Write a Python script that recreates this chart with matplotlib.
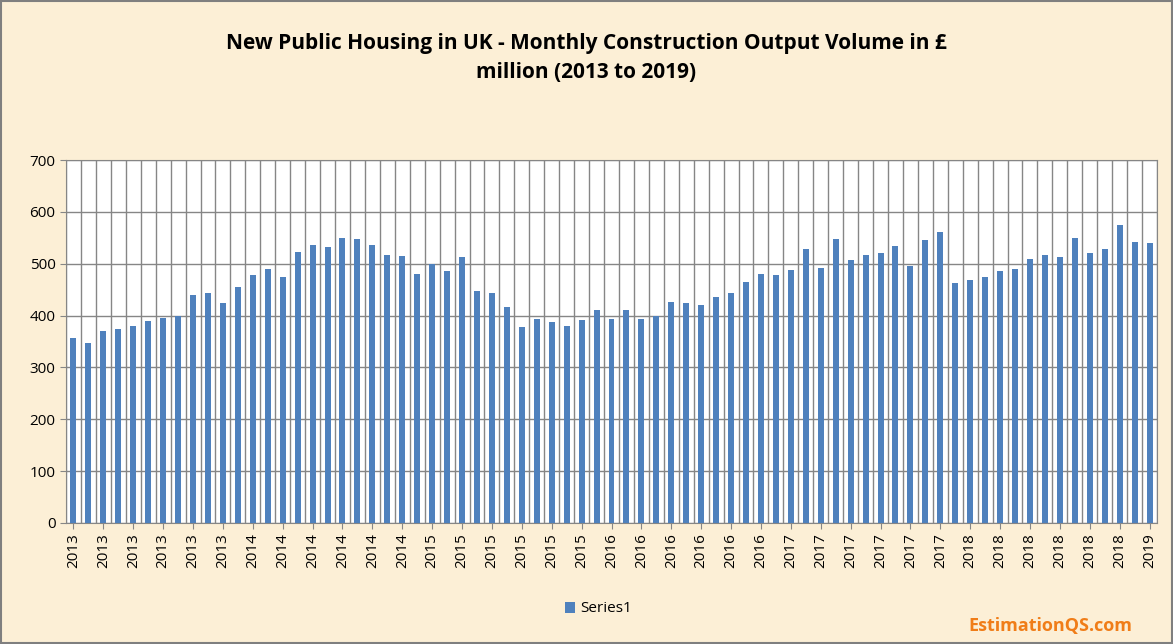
import matplotlib
matplotlib.use("Agg")
import matplotlib.pyplot as plt
import numpy as np

# monthly output, Jan 2013 .. Jan 2019
values = [357, 348, 371, 375, 379, 389, 395, 400, 439, 443, 425, 456,
          479, 489, 475, 523, 537, 533, 550, 548, 537, 517, 514, 481,
          500, 485, 512, 448, 443, 416, 377, 393, 387, 379, 391, 410,
          393, 410, 393, 400, 427, 425, 421, 435, 444, 464, 481, 479,
          487, 529, 491, 548, 508, 517, 521, 535, 496, 546, 562, 462,
          469, 475, 485, 489, 510, 516, 512, 550, 521, 529, 575, 542,
          539]
years = [2013 + i // 12 for i in range(len(values))]

plt.rcParams['font.family'] = ['Open Sans', 'DejaVu Sans']

fig = plt.figure(figsize=(11.73, 6.44), dpi=100)
fig.patch.set_facecolor('#fcefd6')
ax = fig.add_axes([66 / 1173, 1 - 523 / 644, (1157 - 66) / 1173, (523 - 160) / 644])
ax.set_facecolor('white')

x = np.arange(len(values))
ax.bar(x, values, width=0.4, color='#4f81bd', label='Series1', zorder=3)

ax.set_xlim(-0.5, len(values) - 0.5)
ax.set_ylim(0, 700)
ax.set_yticks(range(0, 701, 100))
ax.set_xticks(x[::2])
ax.set_xticklabels([str(years[i]) for i in x[::2]], rotation=90, fontsize=11)
ax.tick_params(axis='y', labelsize=11, length=4, color='#868686')
ax.tick_params(axis='x', length=4, color='#868686')
ax.set_xticks(np.arange(len(values) + 1) - 0.5, minor=True)
ax.tick_params(axis='x', which='minor', length=0)
ax.grid(axis='y', color='#868686', lw=1, zorder=0)
ax.grid(axis='x', which='minor', color='#868686', lw=1, zorder=0)
for s in ax.spines.values():
    s.set_color('#868686')

fig.text(0.5, 1 - 58 / 644, "New Public Housing in UK - Monthly Construction Output Volume in £\nmillion (2013 to 2019)",
         ha='center', va='center', fontsize=15, fontweight='bold', linespacing=1.5)
fig.legend(loc='center', bbox_to_anchor=(0.51, 1 - 609 / 644), frameon=False,
           fontsize=11, handlelength=0.7, handleheight=0.7, handletextpad=0.3)
fig.text(0.965, 1 - 626 / 644, "EstimationQS.com", ha='right', va='center',
         fontsize=13, fontweight='bold', color='#f07d18')
fig.patches.append(plt.Rectangle((0.001, 0.001), 0.998, 0.998, transform=fig.transFigure,
                                 fill=False, edgecolor='#7f7f7f', lw=1.5))

fig.savefig('out.png', dpi=100, facecolor=fig.get_facecolor())
